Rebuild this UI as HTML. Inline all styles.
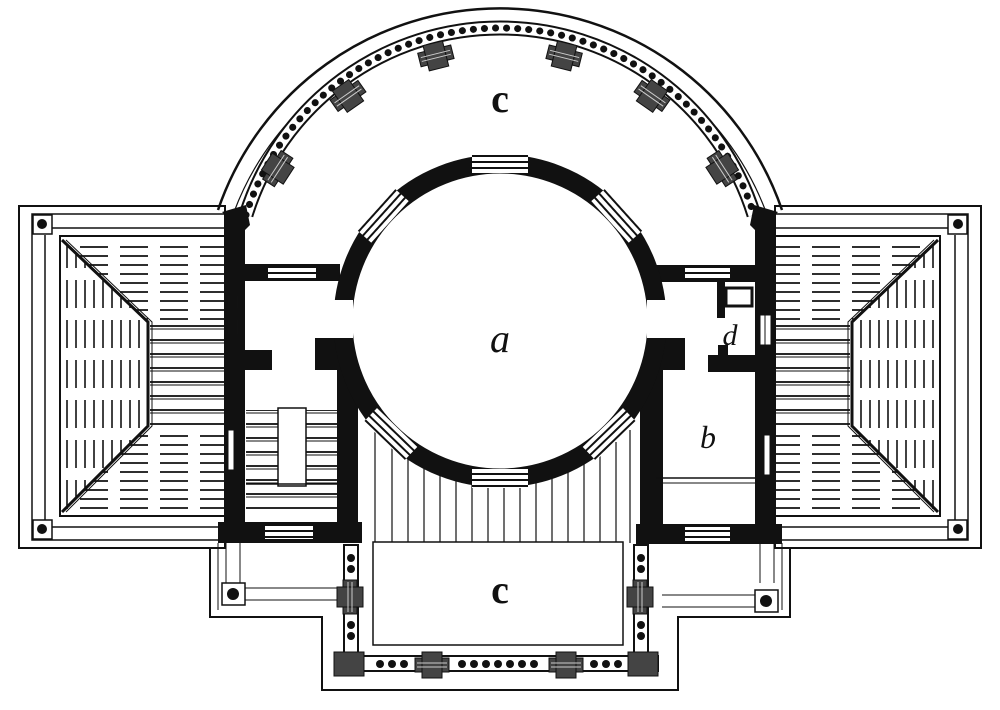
<!DOCTYPE html>
<html><head><meta charset="utf-8"><style>
html,body{margin:0;padding:0;background:#fff;}
svg{display:block;}
text{font-family:"Liberation Serif",serif;fill:#111;}
</style></head><body>
<svg width="1000" height="710" viewBox="0 0 1000 710" xmlns="http://www.w3.org/2000/svg">
<defs>
<pattern id="hd" width="40" height="9" patternUnits="userSpaceOnUse"><line x1="0" y1="4" x2="28" y2="4" stroke="#111" stroke-width="1.8"/></pattern>
<pattern id="vd" width="9" height="40" patternUnits="userSpaceOnUse"><line x1="4" y1="0" x2="4" y2="28" stroke="#111" stroke-width="1.6"/></pattern>
<pattern id="hs" width="10" height="14" patternUnits="userSpaceOnUse"><line x1="0" y1="4" x2="10" y2="4" stroke="#111" stroke-width="1.8"/><line x1="0" y1="7" x2="10" y2="7" stroke="#111" stroke-width="1"/></pattern>
<pattern id="st" width="10" height="6" patternUnits="userSpaceOnUse"><rect width="10" height="6" fill="#fff"/><line x1="0" y1="3" x2="10" y2="3" stroke="#111" stroke-width="2"/></pattern>
<g id="pier"><rect x="-17" y="-6" width="34" height="14" fill="#444" stroke="#111"/><rect x="-10" y="-12" width="20" height="26" fill="#444" stroke="#111"/><line x1="-15" y1="-1" x2="15" y2="-1" stroke="#ccc"/><line x1="-15" y1="3" x2="15" y2="3" stroke="#ccc"/></g>
<g id="wing">
<rect x="19" y="206" width="206" height="342" fill="none" stroke="#111" stroke-width="2"/>
<rect x="32" y="214" width="193" height="326" fill="none" stroke="#111" stroke-width="1.5"/>
<line x1="45" y1="235" x2="45" y2="520" stroke="#111" stroke-width="1.5"/>
<line x1="52" y1="228" x2="225" y2="228" stroke="#111" stroke-width="1.5"/>
<line x1="52" y1="527" x2="225" y2="527" stroke="#111" stroke-width="1.5"/>
<rect x="33" y="215" width="19" height="19" fill="#fff" stroke="#111" stroke-width="1.5"/><circle cx="42" cy="224" r="5" fill="#111"/>
<rect x="33" y="520" width="19" height="19" fill="#fff" stroke="#111" stroke-width="1.5"/><circle cx="42" cy="529" r="5" fill="#111"/>
<rect x="60" y="236" width="165" height="280" fill="none" stroke="#111" stroke-width="2"/>
<polygon points="62,240 225,240 225,320 148,320" fill="url(#hd)"/>
<polygon points="62,512 225,512 225,428 148,428" fill="url(#hd)"/>
<polygon points="62,240 148,322 148,426 62,512" fill="url(#vd)"/>
<rect x="150" y="322" width="75" height="104" fill="url(#hs)"/>
<polyline points="62,240 148,322 148,426 62,512" fill="none" stroke="#111" stroke-width="3"/>
<polyline points="66,240 152,322 152,426 66,512" fill="none" stroke="#111" stroke-width="1"/>
</g>
</defs>

<use href="#wing"/>
<use href="#wing" transform="translate(1000,0) scale(-1,1)"/>

<path d="M 218 210 A 298 298 0 0 1 782 210" fill="none" stroke="#111" stroke-width="2.5"/>
<path d="M 234 212 A 284 284 0 0 1 766 212" fill="none" stroke="#111" stroke-width="1.2"/>
<path d="M 246 215 A 266 266 0 0 1 754 215" fill="none" stroke="#111" stroke-width="15"/>
<path d="M 246 215 A 266 266 0 0 1 754 215" fill="none" stroke="#fff" stroke-width="11"/>
<path d="M 246 215 A 266 266 0 0 1 754 215" fill="none" stroke="#111" stroke-width="7" stroke-linecap="round" stroke-dasharray="0.1 11"/>
<g transform="translate(500,313)">
<use href="#pier" transform="rotate(-14) translate(0,-266)"/>
<use href="#pier" transform="rotate(14) translate(0,-266)"/>
<use href="#pier" transform="rotate(-35) translate(0,-266)"/>
<use href="#pier" transform="rotate(35) translate(0,-266)"/>
<use href="#pier" transform="rotate(-57) translate(0,-266)"/>
<use href="#pier" transform="rotate(57) translate(0,-266)"/>
</g>

<polygon points="222,212 246,205 250,225 245,230 245,543 218,543 218,525 225,525 225,215" fill="#111"/>
<polygon points="778,212 754,205 750,225 755,230 755,543 782,543 782,525 775,525 775,215" fill="#111"/>
<rect x="226" y="295" width="13" height="40" fill="url(#vd)" stroke="#111"/>
<rect x="760" y="315" width="11" height="30" fill="#fff" stroke="#111"/>
<line x1="765" y1="315" x2="765" y2="345" stroke="#111"/>
<rect x="228" y="430" width="6" height="40" fill="#fff" stroke="#111"/>
<rect x="764" y="435" width="6" height="40" fill="#fff" stroke="#111"/>
<rect x="240" y="264" width="100" height="17" fill="#111"/>
<rect x="268" y="266" width="48" height="12" fill="url(#st)"/>
<rect x="655" y="265" width="103" height="17" fill="#111"/>
<rect x="685" y="267" width="45" height="12" fill="url(#st)"/>
<rect x="245" y="350" width="27" height="20" fill="#111"/>
<rect x="708" y="355" width="50" height="17" fill="#111"/>
<rect x="717" y="282" width="8" height="36" fill="#111"/>
<rect x="726" y="288" width="26" height="18" fill="#fff" stroke="#111" stroke-width="3"/>
<rect x="718" y="345" width="10" height="12" fill="#111"/>
<polygon points="315,338 355,338 355,350 372,352 372,372 358,376 358,543 337,543 337,370 315,370" fill="#111"/>
<polygon points="685,338 645,338 645,352 630,355 628,372 640,376 640,543 663,543 663,370 685,370" fill="#111"/>
<rect x="218" y="522" width="144" height="21" fill="#111"/>
<rect x="265" y="525" width="48" height="14" fill="url(#st)"/>
<rect x="636" y="524" width="146" height="20" fill="#111"/>
<rect x="685" y="527" width="45" height="14" fill="url(#st)"/>
<rect x="246" y="410" width="91" height="100" fill="url(#hs)"/>
<rect x="278" y="408" width="28" height="78" fill="#fff" stroke="#111" stroke-width="1.5"/>
<line x1="246" y1="484" x2="337" y2="484" stroke="#111" stroke-width="1.5"/>
<line x1="656" y1="478" x2="755" y2="478" stroke="#111" stroke-width="1.5"/>
<line x1="656" y1="483" x2="755" y2="483" stroke="#111" stroke-width="1"/>

<g stroke="#111" stroke-width="1.2">
<line x1="375" y1="430" x2="375" y2="543"/><line x1="392" y1="445" x2="392" y2="543"/><line x1="408" y1="455" x2="408" y2="543"/><line x1="424" y1="463" x2="424" y2="543"/><line x1="440" y1="470" x2="440" y2="543"/><line x1="456" y1="475" x2="456" y2="543"/><line x1="472" y1="480" x2="472" y2="543"/><line x1="488" y1="482" x2="488" y2="543"/><line x1="504" y1="482" x2="504" y2="543"/><line x1="520" y1="481" x2="520" y2="543"/><line x1="536" y1="478" x2="536" y2="543"/><line x1="552" y1="474" x2="552" y2="543"/><line x1="568" y1="469" x2="568" y2="543"/><line x1="584" y1="462" x2="584" y2="543"/><line x1="600" y1="453" x2="600" y2="543"/><line x1="616" y1="442" x2="616" y2="543"/><line x1="630" y1="430" x2="630" y2="543"/>
</g>

<circle cx="500" cy="321" r="157" fill="#fff" stroke="#111" stroke-width="19"/>
<g transform="translate(500,321)" fill="url(#st)">
<rect x="-28" y="-167" width="56" height="19"/>
<rect x="-28" y="148" width="56" height="19"/>
<rect x="-28" y="-167" width="56" height="19" transform="rotate(-48)"/>
<rect x="-28" y="-167" width="56" height="19" transform="rotate(48)"/>
<rect x="-28" y="148" width="56" height="19" transform="rotate(-44)"/>
<rect x="-28" y="148" width="56" height="19" transform="rotate(44)"/>
</g>
<rect x="328" y="300" width="25" height="38" fill="#fff"/>
<rect x="647" y="300" width="25" height="38" fill="#fff"/>

<polyline points="210,548 210,617 322,617 322,690 678,690 678,617 790,617 790,548" fill="none" stroke="#111" stroke-width="2"/>
<line x1="218" y1="543" x2="218" y2="610" stroke="#111" stroke-width="1"/>
<line x1="782" y1="543" x2="782" y2="610" stroke="#111" stroke-width="1"/>
<line x1="226" y1="543" x2="226" y2="583" stroke="#111"/><line x1="240" y1="543" x2="240" y2="583" stroke="#111"/>
<line x1="760" y1="543" x2="760" y2="583" stroke="#111"/><line x1="774" y1="543" x2="774" y2="583" stroke="#111"/>
<rect x="222" y="583" width="23" height="22" fill="#fff" stroke="#111" stroke-width="1.5"/><circle cx="233" cy="594" r="6" fill="#111"/>
<rect x="755" y="590" width="23" height="22" fill="#fff" stroke="#111" stroke-width="1.5"/><circle cx="766" cy="601" r="6" fill="#111"/>
<line x1="245" y1="588" x2="338" y2="588" stroke="#111"/><line x1="245" y1="600" x2="338" y2="600" stroke="#111"/>
<line x1="662" y1="595" x2="755" y2="595" stroke="#111"/><line x1="662" y1="607" x2="755" y2="607" stroke="#111"/>
<rect x="373" y="542" width="250" height="103" fill="#fff" stroke="#111" stroke-width="1.5"/>

<g>
<rect x="344" y="545" width="14" height="122" fill="#fff" stroke="#111" stroke-width="2"/>
<rect x="634" y="545" width="14" height="122" fill="#fff" stroke="#111" stroke-width="2"/>
<rect x="340" y="656" width="318" height="15" fill="#fff" stroke="#111" stroke-width="2"/>
<g fill="#111"><circle cx="351" cy="558" r="4"/><circle cx="351" cy="569" r="4"/><circle cx="351" cy="625" r="4"/><circle cx="351" cy="636" r="4"/>
<circle cx="641" cy="558" r="4"/><circle cx="641" cy="569" r="4"/><circle cx="641" cy="625" r="4"/><circle cx="641" cy="636" r="4"/>
<circle cx="380" cy="664" r="4"/><circle cx="392" cy="664" r="4"/><circle cx="404" cy="664" r="4"/>
<circle cx="462" cy="664" r="4"/><circle cx="474" cy="664" r="4"/><circle cx="486" cy="664" r="4"/><circle cx="498" cy="664" r="4"/><circle cx="510" cy="664" r="4"/><circle cx="522" cy="664" r="4"/><circle cx="534" cy="664" r="4"/>
<circle cx="594" cy="664" r="4"/><circle cx="606" cy="664" r="4"/><circle cx="618" cy="664" r="4"/></g>
<use href="#pier" transform="translate(351,597) rotate(90)"/>
<use href="#pier" transform="translate(641,597) rotate(90)"/>
<use href="#pier" transform="translate(432,664)"/>
<use href="#pier" transform="translate(566,664)"/>
<rect x="334" y="652" width="30" height="24" fill="#444" stroke="#111"/>
<rect x="628" y="652" width="30" height="24" fill="#444" stroke="#111"/>
</g>

<text x="500" y="112" font-size="40" font-weight="bold" text-anchor="middle">c</text>
<text x="500" y="352" font-size="40" font-style="italic" text-anchor="middle">a</text>
<text x="730" y="345" font-size="30" font-style="italic" text-anchor="middle">d</text>
<text x="708" y="448" font-size="32" font-style="italic" text-anchor="middle">b</text>
<text x="500" y="603" font-size="40" font-weight="bold" text-anchor="middle">c</text>
</svg>
</body></html>
